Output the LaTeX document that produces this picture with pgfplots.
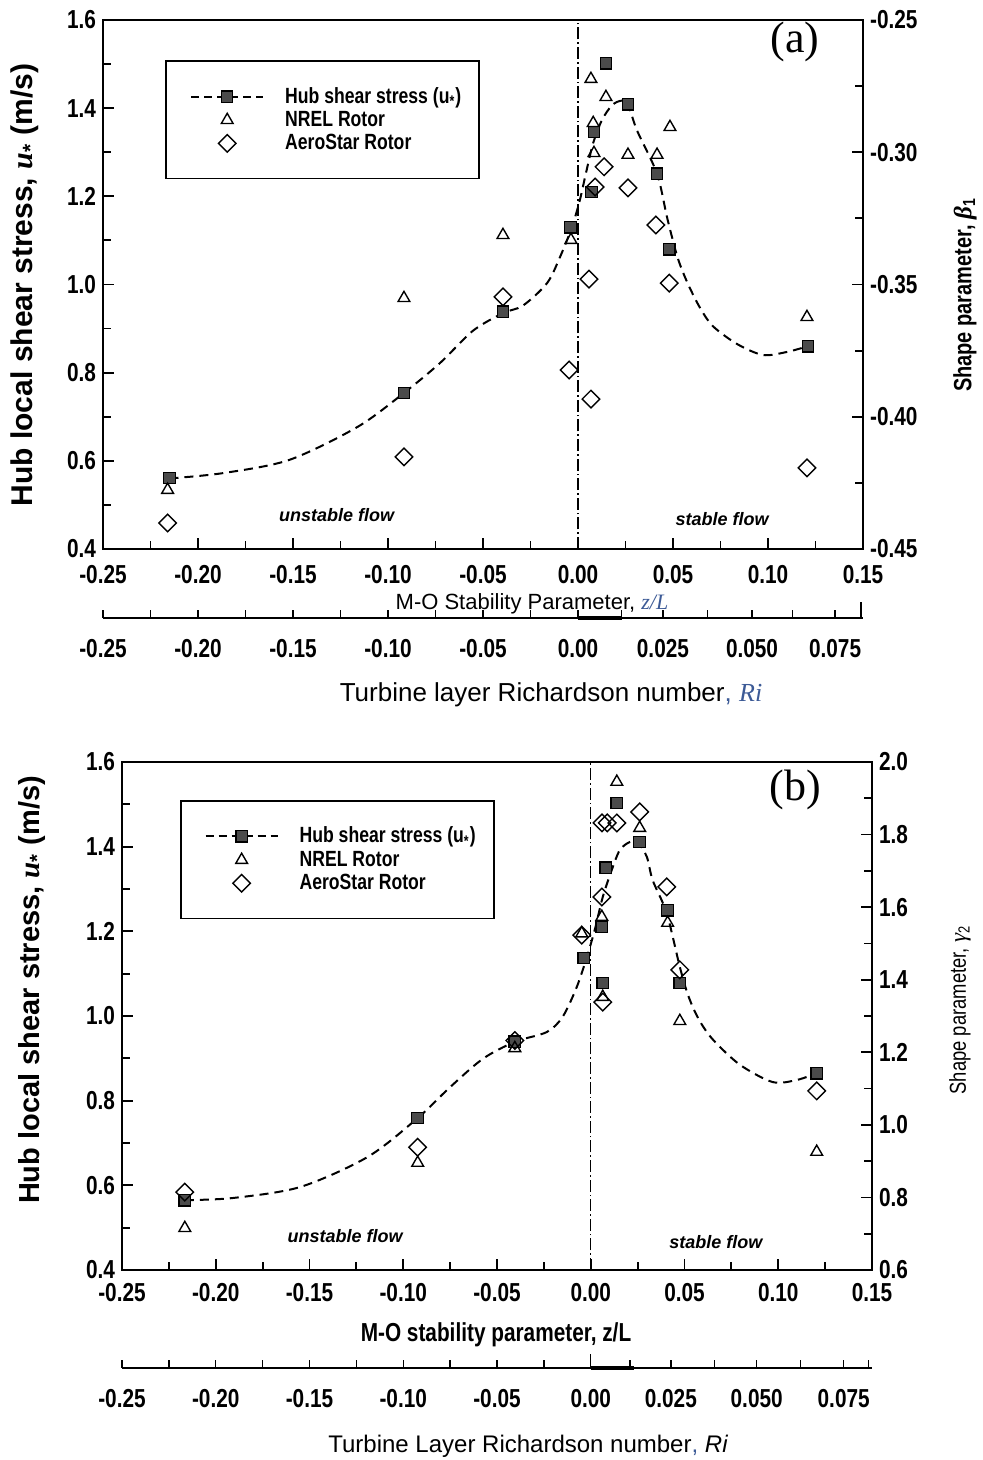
\documentclass[border=0pt]{standalone}
\usepackage{pgfplots}
\pgfplotsset{compat=1.18}
\usepackage{fontspec}
\setmainfont{Liberation Sans}
\newfontfamily\nar{Liberation Sans}[FakeStretch=0.8]
\newfontfamily\tms{Liberation Serif}
\definecolor{lblblue}{RGB}{60,90,150}
\definecolor{sqgray}{RGB}{75,75,75}
\newcommand\tickfont{\nar\bfseries\fontsize{13}{15}\selectfont}
\pgfplotsset{
  base/.style={scale only axis, clip=false, tick align=inside,
    axis line style={line width=1.1pt},
    tick style={line width=0.9pt, black},
    major tick length=5.5pt, minor tick length=4pt,
    tick label style={font=\tickfont},
    scaled x ticks=false, scaled y ticks=false,
    /pgf/number format/assume math mode=true},
  mainax/.style={base, xtick pos=left, ytick pos=left,
    xmin=-0.25, xmax=0.15, ymin=0.4, ymax=1.6,
    xtick={-0.25,-0.2,-0.15,-0.1,-0.05,0,0.05,0.1,0.15},
    ytick={0.4,0.6,0.8,1.0,1.2,1.4,1.6},
    minor x tick num=1, minor y tick num=1,
    xticklabel style={/pgf/number format/fixed, /pgf/number format/fixed zerofill, /pgf/number format/precision=2},
    yticklabel style={/pgf/number format/fixed, /pgf/number format/fixed zerofill, /pgf/number format/precision=1},
    legend cell align=left},
  rightax/.style={base, hide x axis, axis y line*=right, xmin=-0.25, xmax=0.15, minor y tick num=1},
  scaleax/.style={base, hide y axis, axis x line*=bottom, xmin=-0.25, xmax=0.15, ymin=0, ymax=1, height=10pt,
    axis line style={line width=0.8pt}, tick style={line width=0.7pt, black},
    xticklabel style={yshift=-7pt}},
  hubcurve/.style={smooth, black, line width=1pt, dash pattern=on 4.5pt off 3pt, forget plot},
  sq/.style={only marks, mark=square*, mark size=2.9pt, mark options={fill=sqgray, draw=black, line width=0.6pt}, forget plot},
  tri/.style={only marks, mark=triangle, mark size=3.4pt, mark options={draw=black, line width=0.7pt}, forget plot},
  dia/.style={only marks, mark=square, mark size=3.1pt, mark options={rotate=45, draw=black, line width=0.7pt}, forget plot},
  zeroline/.style={black, line width=0.6pt, dash pattern=on 6pt off 1.5pt on 0.8pt off 1.5pt, forget plot},
  leg/.style={legend style={anchor=north west, draw=black, line width=0.9pt,
      font=\nar\bfseries\fontsize{11}{12}\selectfont,
      inner xsep=4pt, inner ysep=11pt, row sep=-1.5pt, nodes={inner xsep=5pt}}},
  hubleg/.style={legend image code/.code={\path[draw=none] (0pt,0pt) -- (50.5pt,0pt); \draw[black, line width=1pt, dash pattern=on 4pt off 2.5pt] (8.5pt,0pt) -- (44.5pt,0pt); \draw[black, fill=sqgray, line width=0.6pt] (23.7pt,-2.8pt) rectangle (29.3pt,2.8pt);}},
  trileg/.style={legend image code/.code={\path[draw=none] (0pt,0pt) -- (50.5pt,0pt); \draw[black, line width=0.7pt, mark size=3.4pt] plot[only marks, mark=triangle] coordinates {(26.5pt,0pt)};}},
  dialeg/.style={legend image code/.code={\path[draw=none] (0pt,0pt) -- (50.5pt,0pt); \draw[black, line width=0.7pt, mark size=3.1pt] plot[only marks, mark=square, mark options={rotate=45}] coordinates {(26.5pt,0pt)};}},
}
\begin{document}
\begin{tikzpicture}
\useasboundingbox (0,0) rectangle (491pt,730pt);

% ===================== Panel (a) =====================
\begin{axis}[mainax, leg, width=380pt, height=264.5pt, at={(51.5pt,455.5pt)}, anchor=south west,
  xticklabel style={yshift=-4.5pt},
  legend style={at={(0.082,0.924)}}]
\addlegendimage{hubleg}
\addlegendentry{Hub shear stress (u\textsubscript{*})}
\addlegendimage{trileg}
\addlegendentry{NREL Rotor}
\addlegendimage{dialeg}
\addlegendentry{AeroStar Rotor}
\addplot[zeroline] coordinates {(0,0.4) (0,1.6)};
\addplot[hubcurve] coordinates {
(-0.215,0.560) (-0.187,0.572) (-0.152,0.602) (-0.116,0.677) (-0.0916,0.754) (-0.0726,0.822)
(-0.0553,0.895) (-0.0395,0.935) (-0.029,0.952) (-0.0163,1.003) (-0.0095,1.062) (-0.0032,1.130)
(0.001,1.192) (0.0042,1.253) (0.008,1.321) (0.0126,1.373) (0.018,1.407) (0.023,1.417)
(0.0263,1.409) (0.031,1.350) (0.0416,1.251) (0.047,1.150) (0.0525,1.060) (0.058,1.000)
(0.0645,0.945) (0.0711,0.905) (0.0837,0.865) (0.0974,0.840) (0.110,0.847) (0.121,0.860)};
\addplot[sq] coordinates {(-0.215,0.561) (-0.0916,0.754) (-0.0395,0.938) (-0.004,1.130) (0.007,1.210) (0.0084,1.346) (0.0147,1.502) (0.0263,1.409) (0.0416,1.251) (0.048,1.080) (0.121,0.860)};
\addplot[tri] coordinates {(-0.216,0.534) (-0.0916,0.969) (-0.0395,1.112) (-0.0037,1.101) (0.0068,1.466) (0.008,1.366) (0.0084,1.298) (0.0147,1.425) (0.0263,1.294) (0.0416,1.294) (0.0484,1.357) (0.1205,0.926)};
\addplot[dia] coordinates {(-0.216,0.459) (-0.0916,0.609) (-0.0395,0.972) (-0.0047,0.806) (0.0058,1.012) (0.0068,0.740) (0.009,1.221) (0.0137,1.267) (0.0263,1.219) (0.041,1.135) (0.048,1.003) (0.1205,0.584)};
\node[font=\bfseries\itshape\fontsize{9}{10}\selectfont] at (axis cs:-0.127,0.477) {unstable flow};
\node[font=\bfseries\itshape\fontsize{9}{10}\selectfont] at (axis cs:0.0758,0.468) {stable flow};
\end{axis}
\begin{axis}[rightax, width=380pt, height=264.5pt, at={(51.5pt,455.5pt)}, anchor=south west,
  ymin=-0.45, ymax=-0.25, ytick={-0.45,-0.4,-0.35,-0.3,-0.25},
  yticklabel style={/pgf/number format/fixed, /pgf/number format/fixed zerofill, /pgf/number format/precision=2}]
\addplot[draw=none, forget plot] coordinates {(0,-0.3)};
\end{axis}
\begin{axis}[scaleax, width=380pt, at={(51.5pt,421pt)}, anchor=south west,
  major tick length=4pt, minor tick length=4pt,
  xtick={-0.25,-0.2,-0.15,-0.1,-0.05,0,0.0447,0.0916,0.1353},
  xticklabels={-0.25,-0.20,-0.15,-0.10,-0.05,0.00,0.025,0.050,0.075},
  minor xtick={-0.225,-0.175,-0.125,-0.075,-0.025,0.023,0.068,0.113},
  extra x ticks={-0.2515,0.149}, extra x tick labels={}, extra x tick style={major tick length=8pt}]
\addplot[black, line width=1.8pt, forget plot] coordinates {(0,0) (0.023,0)};
\end{axis}
\node[font=\fontsize{11}{12}\selectfont] at (266pt,428pt) {M-O Stability Parameter, {\tms\itshape\color{lblblue}z/L}};
\node[font=\fontsize{13}{15}\selectfont] at (275.5pt,382.5pt) {Turbine layer Richardson number{\color{lblblue},} {\tms\itshape\color{lblblue}Ri}};
\node[rotate=90, font=\bfseries\fontsize{15}{17}\selectfont] at (12.5pt,587.5pt) {Hub local shear stress, {\tms\itshape u}\textsubscript{*} (m/s)};
\node[rotate=90, font=\nar\bfseries\fontsize{12.5}{14}\selectfont] at (482.5pt,582.5pt) {Shape parameter, {\tms\itshape β}\textsubscript{1}};
\node[font=\tms\fontsize{22}{24}\selectfont] at (397.5pt,709pt) {(a)};

% ===================== Panel (b) =====================
\begin{axis}[mainax, leg, width=375pt, height=254pt, at={(61pt,95pt)}, anchor=south west,
  xticklabel style={yshift=-3pt},
  legend style={at={(0.077,0.925)}}]
\addlegendimage{hubleg}
\addlegendentry{Hub shear stress (u\textsubscript{*})}
\addlegendimage{trileg}
\addlegendentry{NREL Rotor}
\addlegendimage{dialeg}
\addlegendentry{AeroStar Rotor}
\addplot[zeroline] coordinates {(0,0.4) (0,1.6)};
\addplot[hubcurve] coordinates {
(-0.2165,0.565) (-0.191,0.570) (-0.155,0.596) (-0.119,0.667) (-0.0923,0.759) (-0.075,0.832)
(-0.0575,0.899) (-0.0405,0.939) (-0.0235,0.962) (-0.015,0.998) (-0.0075,1.068) (-0.0021,1.139)
(0.0021,1.203) (0.0064,1.281) (0.0112,1.345) (0.0155,1.392) (0.0208,1.411) (0.025,1.411)
(0.0299,1.376) (0.033,1.321) (0.0405,1.243) (0.0475,1.116) (0.052,1.048) (0.0575,0.993)
(0.065,0.945) (0.0795,0.885) (0.097,0.844) (0.110,0.849) (0.1205,0.865)};
\addplot[sq] coordinates {(-0.2165,0.565) (-0.0923,0.759) (-0.0405,0.939) (-0.0037,1.137) (0.0059,1.210) (0.0064,1.078) (0.008,1.350) (0.0139,1.503) (0.0261,1.411) (0.041,1.250) (0.0475,1.078) (0.1205,0.865)};
\addplot[tri] coordinates {(-0.2165,0.499) (-0.0923,0.653) (-0.0405,0.924) (-0.0048,1.195) (0.0059,1.234) (0.0064,1.045) (0.0139,1.553) (0.0261,1.444) (0.041,1.220) (0.0475,0.988) (0.1205,0.679)};
\addplot[dia] coordinates {(-0.2165,0.584) (-0.0923,0.690) (-0.0405,0.942) (-0.0048,1.191) (0.0059,1.281) (0.0064,1.033) (0.0060,1.456) (0.0088,1.456) (0.0139,1.456) (0.0261,1.482) (0.0405,1.305) (0.0475,1.109) (0.1205,0.823)};
\node[font=\bfseries\itshape\fontsize{9}{10}\selectfont] at (axis cs:-0.131,0.480) {unstable flow};
\node[font=\bfseries\itshape\fontsize{9}{10}\selectfont] at (axis cs:0.0667,0.466) {stable flow};
\end{axis}
\begin{axis}[rightax, width=375pt, height=254pt, at={(61pt,95pt)}, anchor=south west,
  ymin=0.6, ymax=2.0, ytick={0.6,0.8,1.0,1.2,1.4,1.6,1.8,2.0},
  yticklabel style={/pgf/number format/fixed, /pgf/number format/fixed zerofill, /pgf/number format/precision=1}]
\addplot[draw=none, forget plot] coordinates {(0,1)};
\end{axis}
\begin{axis}[scaleax, width=375pt, at={(61pt,46pt)}, anchor=south west,
  major tick length=4pt, minor tick length=4pt,
  xtick={-0.25,-0.2,-0.15,-0.1,-0.05,0,0.0427,0.0885,0.1349},
  xticklabels={-0.25,-0.20,-0.15,-0.10,-0.05,0.00,0.025,0.050,0.075},
  minor xtick={-0.225,-0.175,-0.125,-0.075,-0.025,0.021,0.066,0.112,0.148},
  extra x ticks={0}, extra x tick labels={}, extra x tick style={major tick length=7pt}]
\addplot[black, line width=1.8pt, forget plot] coordinates {(0,0) (0.023,0)};
\end{axis}
\node[font=\nar\bfseries\fontsize{13}{15}\selectfont] at (248pt,62.5pt) {M-O stability parameter, z/L};
\node[font=\fontsize{12}{14}\selectfont] at (264pt,7pt) {Turbine Layer Richardson number{\color{lblblue},} {\itshape Ri}};
\node[rotate=90, font=\bfseries\fontsize{14.5}{17}\selectfont] at (16pt,235pt) {Hub local shear stress, {\tms\itshape u}\textsubscript{*} (m/s)};
\node[rotate=90, font=\nar\fontsize{11.5}{13}\selectfont] at (480pt,225pt) {Shape parameter, {\tms\itshape γ}\textsubscript{2}};
\node[font=\tms\fontsize{22}{24}\selectfont] at (397.5pt,335pt) {(b)};
\end{tikzpicture}
\end{document}
